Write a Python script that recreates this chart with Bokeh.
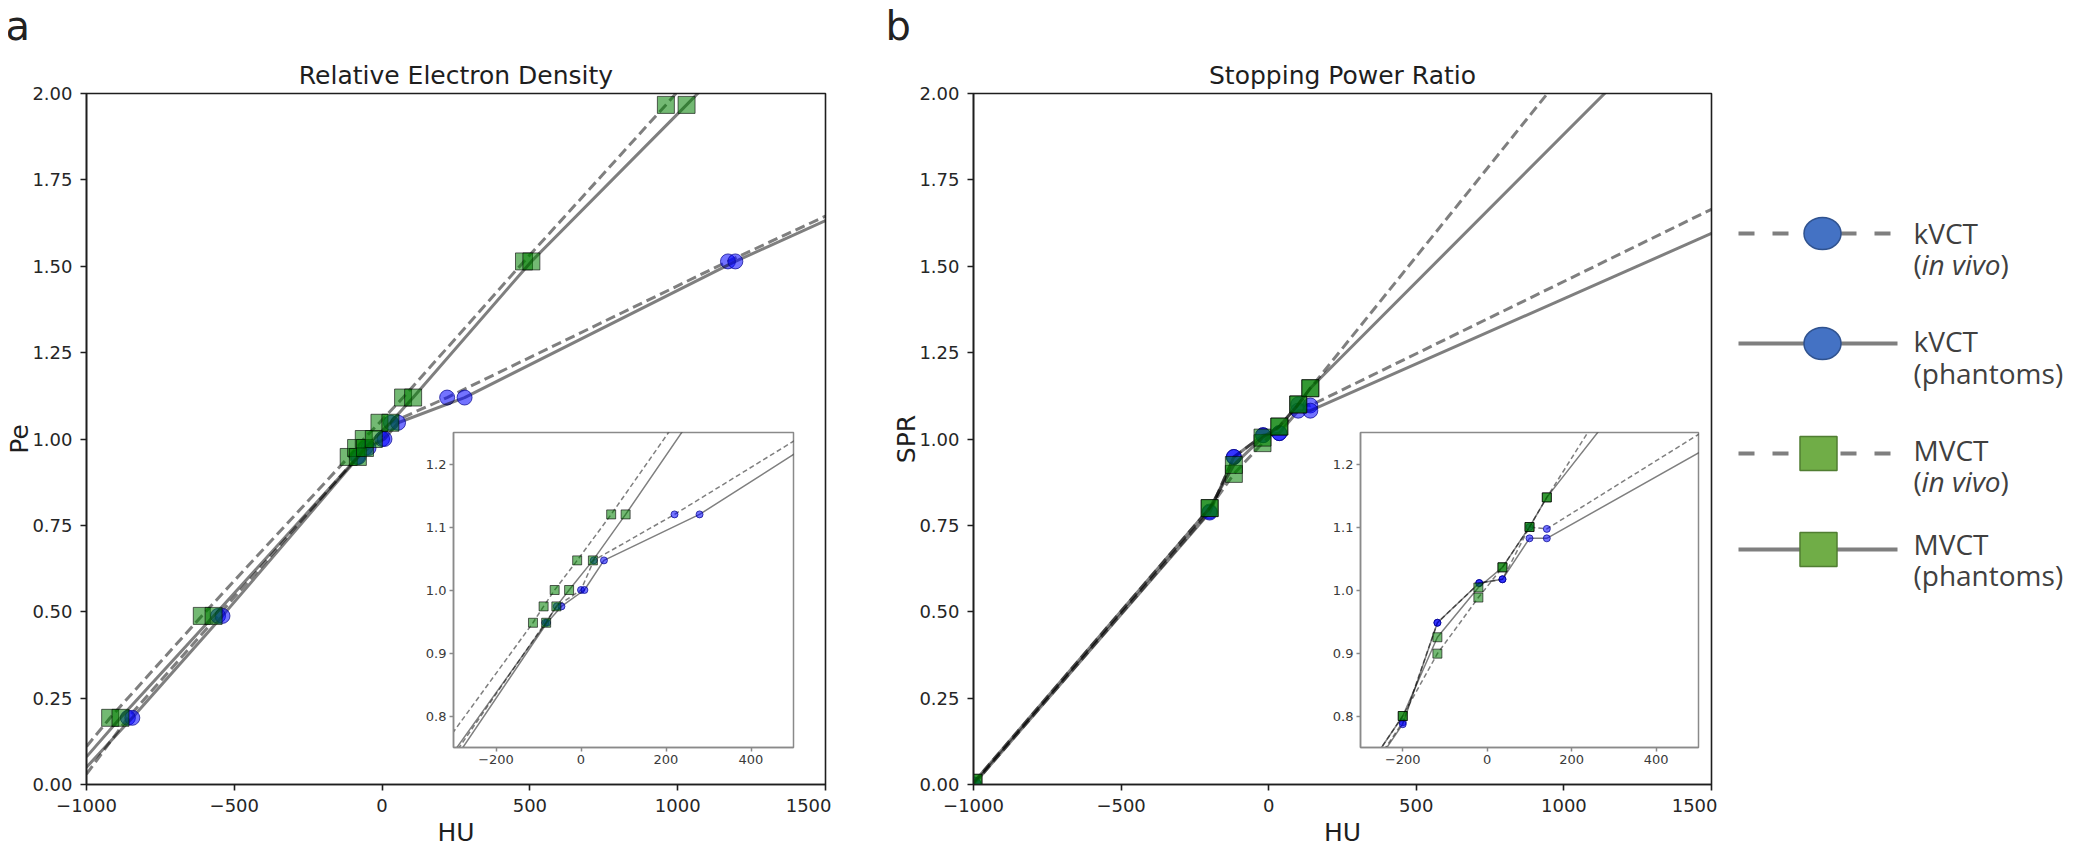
from jinja2 import Template
from bokeh.plotting import figure
from bokeh.models import Range1d, FixedTicker, PrintfTickFormatter
from bokeh.core.properties import value
from bokeh.embed import file_html
from bokeh.resources import INLINE

# ---------------- data ----------------
HU_MIN, HU_MAX = -1000, 1500

# Panel a : relative electron density
hu_a_kv_vivo = [-860, -555, -84, -57, 0, 30, 220, 1170]
re_a_kv_vivo = [0.193, 0.488, 0.948, 0.974, 1.000, 1.047, 1.120, 1.514]
hu_a_kv_phan = [-845, -540, -80, -46, 8, 54, 279, 1195]
re_a_kv_phan = [0.193, 0.488, 0.948, 0.974, 1.000, 1.047, 1.120, 1.514]
hu_a_mv_vivo = [-920, -610, -113, -88, -62, -9, 71, 480, 960]
re_a_mv_vivo = [0.193, 0.488, 0.948, 0.974, 1.000, 1.047, 1.120, 1.514, 1.967]
hu_a_mv_phan = [-885, -570, -82, -58, -28, 28, 105, 505, 1030]
re_a_mv_phan = [0.193, 0.488, 0.948, 0.974, 1.000, 1.047, 1.120, 1.514, 1.967]
# calibration-curve values read at HU = -1000 and HU = 1500
ends_a_kv_vivo = [0.03, 1.645]
ends_a_kv_phan = [0.05, 1.632]
ends_a_mv_vivo = [0.11, 2.49]
ends_a_mv_phan = [0.08, 2.38]

# Panel b : stopping power ratio
hu_b_kv_vivo = [-1000, -200, -118, -19, 36, 100, 141]
sp_b_kv_vivo = [0.000, 0.790, 0.948, 1.011, 1.017, 1.100, 1.097]
hu_b_kv_phan = [-1000, -200, -118, -19, 36, 100, 141]
sp_b_kv_phan = [0.000, 0.787, 0.948, 1.011, 1.017, 1.082, 1.082]
hu_b_mv_vivo = [-1000, -200, -118, -21, 36, 100, 141]
sp_b_mv_vivo = [0.005, 0.800, 0.899, 0.988, 1.036, 1.100, 1.147]
hu_b_mv_phan = [-1000, -200, -118, -21, 36, 100, 141]
sp_b_mv_phan = [0.005, 0.800, 0.925, 1.004, 1.036, 1.100, 1.147]
# calibration-curve values read at HU = 1500
end_b_kv_vivo = 1.665
end_b_kv_phan = 1.595
end_b_mv_vivo = 2.59
end_b_mv_phan = 2.31

x_ticks_main = [-1000, -500, 0, 500, 1000, 1500]
y_ticks_main = [0.0, 0.25, 0.5, 0.75, 1.0, 1.25, 1.5, 1.75, 2.0]
x_ticks_inset = [-200, 0, 200, 400]
y_ticks_inset = [0.8, 0.9, 1.0, 1.1, 1.2]

legend_names = ["kVCT", "kVCT", "MVCT", "MVCT"]
legend_notes = ["in vivo", "phantoms", "in vivo", "phantoms"]

# ---------------- styling helpers ----------------
TICK_FONT = "DejaVu Sans"
BLUE_FILL, BLUE_EDGE = "#0000ff", "#00008b"
GREEN_FILL, GREEN_EDGE = "#008000", "#000000"


def style_axes(p, label_px, color, tick_out, lw, standoff, axis_label_px=None):
    p.xgrid.visible = False
    p.ygrid.visible = False
    for ax in (p.xaxis[0], p.yaxis[0]):
        ax.axis_line_color = color
        ax.axis_line_width = lw
        ax.major_tick_line_color = color
        ax.major_tick_line_width = lw
        ax.major_tick_out = tick_out
        ax.major_tick_in = 0
        ax.minor_tick_line_color = None
        ax.major_label_text_font = TICK_FONT
        ax.major_label_text_font_size = label_px
        ax.major_label_text_color = "#262626" if axis_label_px else "#3a3a3a"
        ax.major_label_standoff = standoff
        if axis_label_px:
            ax.axis_label_text_font = TICK_FONT
            ax.axis_label_text_font_size = axis_label_px
            ax.axis_label_text_font_style = "normal"
            ax.axis_label_text_color = "#1e1e1e"
            ax.axis_label_standoff = 3
    p.outline_line_color = color
    p.outline_line_width = lw
    p.outline_line_alpha = 1.0


def draw_series(p, hu, val, line_hu, line_val, kind, dashed, lw, dash, msize):
    p.line(line_hu, line_val, line_color="black", line_alpha=0.5, line_width=lw,
           line_dash=dash if dashed else "solid")
    if kind == "kv":
        p.scatter(hu, val, marker="circle", size=msize, fill_color=BLUE_FILL, fill_alpha=0.55,
                  line_color=BLUE_EDGE, line_alpha=0.7, line_width=1)
    else:
        p.scatter(hu, val, marker="square", size=msize + 2, fill_color=GREEN_FILL, fill_alpha=0.55,
                  line_color=GREEN_EDGE, line_alpha=0.6, line_width=1)


def panel_series_a():
    out = []
    for hu, v, ends, kind, dashed in [
        (hu_a_kv_vivo, re_a_kv_vivo, ends_a_kv_vivo, "kv", True),
        (hu_a_kv_phan, re_a_kv_phan, ends_a_kv_phan, "kv", False),
        (hu_a_mv_vivo, re_a_mv_vivo, ends_a_mv_vivo, "mv", True),
        (hu_a_mv_phan, re_a_mv_phan, ends_a_mv_phan, "mv", False),
    ]:
        out.append((hu, v, [HU_MIN] + hu + [HU_MAX], [ends[0]] + v + [ends[1]], kind, dashed))
    return out


def panel_series_b():
    out = []
    for hu, v, end, kind, dashed in [
        (hu_b_kv_vivo, sp_b_kv_vivo, end_b_kv_vivo, "kv", True),
        (hu_b_kv_phan, sp_b_kv_phan, end_b_kv_phan, "kv", False),
        (hu_b_mv_vivo, sp_b_mv_vivo, end_b_mv_vivo, "mv", True),
        (hu_b_mv_phan, sp_b_mv_phan, end_b_mv_phan, "mv", False),
    ]:
        out.append((hu, v, hu + [HU_MAX], v + [end], kind, dashed))
    return out


def main_fig(name, title, ylabel, frame_w, series):
    p = figure(name=name, frame_width=frame_w, frame_height=691,
               x_range=Range1d(HU_MIN, HU_MAX), y_range=Range1d(0, 2),
               title=title, x_axis_label="HU", y_axis_label=ylabel,
               output_backend="svg", toolbar_location=None,
               min_border_left=110, min_border_right=6, min_border_top=85, min_border_bottom=60)
    p.title.text_font = TICK_FONT
    p.title.text_font_size = "25px"
    p.title.text_font_style = "normal"
    p.title.text_color = "#1e1e1e"
    p.title.align = "center"
    p.title.standoff = 8
    style_axes(p, "18px", "#1e1e1e", 6, 1.6, 8, "25px")
    p.yaxis.axis_label_standoff = -5
    p.xaxis.ticker = FixedTicker(ticks=x_ticks_main)
    p.yaxis.ticker = FixedTicker(ticks=y_ticks_main)
    p.yaxis.formatter = PrintfTickFormatter(format="%.2f")
    p.xaxis.major_label_overrides = {t: ("\u2212" + str(-t) if t < 0 else str(t)) for t in x_ticks_main}
    p.background_fill_color = "white"
    p.border_fill_alpha = 0
    for hu, v, lhu, lv, kind, dashed in series:
        draw_series(p, hu, v, lhu, lv, kind, dashed, 3, "10 5", 15)
    return p


def inset_fig(name, frame_w, series):
    p = figure(name=name, frame_width=frame_w, frame_height=315,
               x_range=Range1d(-300, 500), y_range=Range1d(0.75, 1.25),
               output_backend="svg", toolbar_location=None,
               min_border_left=45, min_border_right=4, min_border_top=4, min_border_bottom=35)
    style_axes(p, "13px", "#8a8a8a", 4, 1.5, 3)
    p.xaxis.ticker = FixedTicker(ticks=x_ticks_inset)
    p.yaxis.ticker = FixedTicker(ticks=y_ticks_inset)
    p.yaxis.formatter = PrintfTickFormatter(format="%.1f")
    p.xaxis.major_label_overrides = {t: ("\u2212" + str(-t) if t < 0 else str(t)) for t in x_ticks_inset}
    p.background_fill_color = "white"
    p.border_fill_alpha = 0
    for hu, v, lhu, lv, kind, dashed in series:
        draw_series(p, hu, v, lhu, lv, kind, dashed, 1.5, "5 3", 7)
    return p


series_a = panel_series_a()
series_b = panel_series_b()

figA = main_fig("figA", "Relative Electron Density", "Pe", 739, series_a)
figB = main_fig("figB", "Stopping Power Ratio", "SPR", 738, series_b)
insA = inset_fig("insA", 340, series_a)
insB = inset_fig("insB", 338, series_b)

# ---------------- annotation layer (panel letters + legend) ----------------
ann = figure(name="ann", frame_width=2074, frame_height=852,
             x_range=Range1d(0, 2074), y_range=Range1d(852, 0),
             output_backend="svg", toolbar_location=None,
             min_border_left=0, min_border_right=0, min_border_top=0, min_border_bottom=0)
ann.axis.visible = False
ann.xgrid.visible = False
ann.ygrid.visible = False
ann.outline_line_color = None
ann.background_fill_alpha = 0
ann.border_fill_alpha = 0

ann.text(x=[5, 885], y=[25, 25], text=["a", "b"], text_font=value("DejaVu Sans"),
         text_font_size="40px", text_color="#222222", text_align="left", text_baseline="alphabetic")

LEG_X0, LEG_X1 = 1738, 1897
LEG_Y = [233, 343, 453, 549]
LEG_DASHED = [True, False, True, False]
LEG_KIND = ["kv", "kv", "mv", "mv"]
TXT_X = 1913
TXT_Y1 = [232, 340, 449, 543]
TXT_Y2 = [263, 372, 480, 574]
for i in range(4):
    y = LEG_Y[i]
    ann.line([LEG_X0, LEG_X1], [y, y], line_color="#7f7f7f", line_width=4,
             line_dash="16 18" if LEG_DASHED[i] else "solid")
    if LEG_KIND[i] == "kv":
        ann.ellipse(x=[1822], y=[y], width=37, height=32, fill_color="#4472C4",
                    line_color="#2F528F", line_width=1.5)
    else:
        ann.rect(x=[1818], y=[y], width=37, height=34, fill_color="#70AD47",
                 line_color="#507E32", line_width=1.5)
    tk = dict(text_font=value("Open Sans"), text_font_size="28px", text_color="#404040",
              text_align="left", text_baseline="alphabetic")
    ann.text(x=[TXT_X], y=[TXT_Y1[i]], text=[legend_names[i]], **tk)
    if legend_notes[i] == "in vivo":
        ann.text(x=[TXT_X], y=[TXT_Y2[i]], text=["("], **tk)
        ann.text(x=[TXT_X + 8], y=[TXT_Y2[i]], text=[legend_notes[i]], text_font_style="italic", **tk)
        ann.text(x=[TXT_X + 87], y=[TXT_Y2[i]], text=[")"], **tk)
    else:
        ann.text(x=[TXT_X], y=[TXT_Y2[i]], text=["(" + legend_notes[i] + ")"], **tk)

TEMPLATE = Template("""{% from macros import embed %}
<!DOCTYPE html>
<html lang="en">
<head>
<meta charset="utf-8">
<title>{{ title }}</title>
{{ bokeh_css if bokeh_css }}
{{ bokeh_js if bokeh_js }}
<style>
html, body { padding: 0; overflow: hidden; background: #ffffff; }
html { margin: 0; }
body { margin: 8px; }
.box { position: relative; width: 2058px; height: 836px; }
.abs { position: absolute; }
</style>
</head>
<body>
<div class="box">
<div class="abs" style="left:-32px;top:0px;">{{ embed(roots.figA) }}</div>
<div class="abs" style="left:855px;top:0px;">{{ embed(roots.figB) }}</div>
<div class="abs" style="left:400px;top:420px;">{{ embed(roots.insA) }}</div>
<div class="abs" style="left:1307px;top:420px;">{{ embed(roots.insB) }}</div>
<div class="abs" style="left:-8px;top:-8px;">{{ embed(roots.ann) }}</div>
</div>
{{ plot_script }}
</body>
</html>
""")

p = [figA, figB, insA, insB, ann]
open("out.html", "w").write(file_html(p, INLINE, title="HU calibration", template=TEMPLATE))
